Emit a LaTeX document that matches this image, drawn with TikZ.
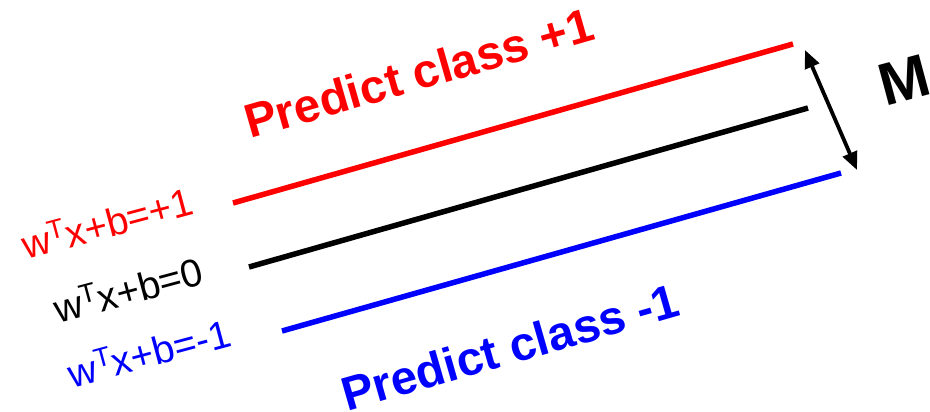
\documentclass[tikz,border=0pt]{standalone}
\usepackage{fontspec}
\setmainfont{Liberation Sans}
\usetikzlibrary{arrows.meta}
\newcommand{\supT}{\raisebox{0.62ex}{\fontsize{27}{27}\selectfont T}}
\begin{document}
\begin{tikzpicture}[x=1pt,y=-1pt]
\useasboundingbox (0,0) rectangle (930,412);
\tikzset{
  bound/.style={line width=5.5pt},
  eqlbl/.style={font=\fontsize{39}{39}\selectfont, rotate=15, inner sep=0pt},
  clslbl/.style={font=\fontsize{47.5}{47.5}\selectfont\bfseries, rotate=16, inner sep=0pt},
}
\coordinate (rA) at (233,203);
\coordinate (rB) at (793,44);
\coordinate (kA) at (249,267);
\coordinate (kB) at (808,108);
\coordinate (bA) at (282,331);
\coordinate (bB) at (841,173);
\coordinate (mA) at (805,50);
\coordinate (mB) at (857,170);
\draw[bound, red] (rA) -- (rB);
\draw[bound, black] (kA) -- (kB);
\draw[bound, blue] (bA) -- (bB);
\draw[line width=3.8pt, {Triangle[length=18pt,width=15pt]}-{Triangle[length=18pt,width=15pt]}] (mA) -- (mB);
\node[eqlbl, text=red] (eqp) at (107,222) {w\supT x+b=+1};
\node[eqlbl, text=black] (eqz) at (128,289) {w\supT x+b=0};
\node[eqlbl, text=blue] (eqm) at (149,352) {w\supT x+b=-1};
\node[clslbl, text=red] (cp) at (419,73) {Predict class +1};
\node[clslbl, text=blue] (cm) at (510,347) {Predict class -1};
\node[font=\fontsize{60}{60}\selectfont\bfseries, rotate=15, inner sep=0pt] (mm) at (904,80) {M};
\end{tikzpicture}
\end{document}
